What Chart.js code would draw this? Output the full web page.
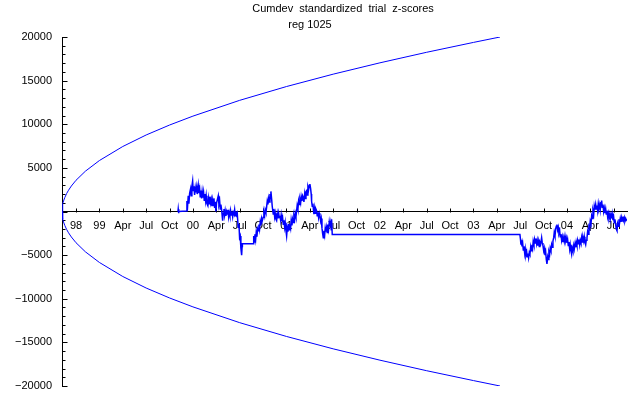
<!DOCTYPE html>
<html>
<head>
<meta charset="utf-8">
<script src="https://cdn.jsdelivr.net/npm/chart.js@4.4.1/dist/chart.umd.min.js"></script>
<style>
  html, body { margin: 0; padding: 0; background: #fff; }
</style>
</head>
<body>
<canvas id="myChart" width="640" height="395"></canvas>
<script>
var titleLine1 = "Cumdev  standardized  trial  z-scores";
var titleLine2 = "reg 1025";

// x axis: decimal years, quarterly ticks
var xMin = 1998.6;
var xMax = 2004.642;
var tickYears = [1998.75, 1999, 1999.25, 1999.5, 1999.75, 2000, 2000.25, 2000.5, 2000.75,
  2001, 2001.25, 2001.5, 2001.75, 2002, 2002.25, 2002.5, 2002.75, 2003, 2003.25, 2003.5,
  2003.75, 2004, 2004.25, 2004.5];
var tickLabels = ["98", "99", "Apr", "Jul", "Oct", "00", "Apr", "Jul", "Oct",
  "01", "Apr", "Jul", "Oct", "02", "Apr", "Jul", "Oct", "03", "Apr", "Jul",
  "Oct", "04", "Apr", "Jul"];

// envelope
var envYears = [1998.600, 1998.605, 1998.610, 1998.620, 1998.630, 1998.650, 1998.670, 1998.700,
  1998.750, 1998.850, 1999.000, 1999.250, 1999.500, 1999.750, 2000.000, 2000.500, 2001.000,
  2001.500, 2002.000, 2002.500, 2003.000, 2003.284];
var envUpper = [0, 650, 920, 1310, 1600, 2070, 2440, 2920, 3580, 4620, 5840, 7450, 8770, 9910,
  10930, 12740, 14320, 15740, 17040, 18250, 19380, 20000];
var envLower = [0, -650, -920, -1310, -1600, -2070, -2440, -2920, -3580, -4620, -5840, -7450, -8770, -9910,
  -10930, -12740, -14320, -15740, -17040, -18250, -19380, -20000];

// cumdev, first run (late 1999 - mid 2001)
var run1Years = [
  1999.840, 1999.843, 1999.846, 1999.850, 1999.933, 1999.936, 1999.940, 1999.950, 1999.957, 1999.965,
  1999.975, 1999.982, 1999.989, 1999.997, 2000.003, 2000.011, 2000.018, 2000.025, 2000.032, 2000.040,
  2000.046, 2000.057, 2000.064, 2000.072, 2000.078, 2000.086, 2000.093, 2000.099, 2000.107, 2000.114,
  2000.121, 2000.128, 2000.136, 2000.142, 2000.150, 2000.160, 2000.168, 2000.174, 2000.182, 2000.189,
  2000.196, 2000.203, 2000.211, 2000.217, 2000.225, 2000.232, 2000.238, 2000.246, 2000.253, 2000.260,
  2000.271, 2000.278, 2000.286, 2000.292, 2000.299, 2000.307, 2000.318, 2000.324, 2000.332, 2000.339,
  2000.345, 2000.353, 2000.360, 2000.367, 2000.374, 2000.382, 2000.388, 2000.396, 2000.403, 2000.410,
  2000.417, 2000.425, 2000.431, 2000.439, 2000.446, 2000.452, 2000.460, 2000.467, 2000.474, 2000.484,
  2000.492, 2000.499, 2000.506, 2000.513, 2000.521, 2000.526, 2000.529, 2000.645, 2000.650, 2000.656,
  2000.663, 2000.671, 2000.677, 2000.684, 2000.692, 2000.698, 2000.706, 2000.713, 2000.720, 2000.727,
  2000.735, 2000.741, 2000.752, 2000.759, 2000.767, 2000.773, 2000.781, 2000.788, 2000.795, 2000.802,
  2000.810, 2000.816, 2000.824, 2000.831, 2000.834, 2000.842, 2000.848, 2000.859, 2000.866, 2000.874,
  2000.880, 2000.888, 2000.895, 2000.902, 2000.909, 2000.917, 2000.923, 2000.930, 2000.938, 2000.944,
  2000.952, 2000.959, 2000.966, 2000.973, 2000.981, 2000.987, 2000.995, 2001.002, 2001.009, 2001.016,
  2001.024, 2001.030, 2001.037, 2001.045, 2001.051, 2001.059, 2001.066, 2001.073, 2001.080, 2001.088,
  2001.094, 2001.102, 2001.109, 2001.115, 2001.123, 2001.130, 2001.137, 2001.144, 2001.152, 2001.158,
  2001.166, 2001.173, 2001.180, 2001.187, 2001.195, 2001.201, 2001.209, 2001.216, 2001.222, 2001.230,
  2001.237, 2001.244, 2001.251, 2001.259, 2001.265, 2001.269, 2001.276, 2001.283, 2001.291, 2001.294,
  2001.302, 2001.308, 2001.315, 2001.323, 2001.329, 2001.337, 2001.344, 2001.351, 2001.358, 2001.366,
  2001.372, 2001.380, 2001.387, 2001.394, 2001.401, 2001.409, 2001.415, 2001.422, 2001.430, 2001.436,
  2001.444, 2001.451, 2001.458, 2001.465, 2001.473, 2001.479, 2001.483, 2001.490
];
var run1Values = [
  0, 300, -200, 0, 50, 1200, 100, 1800, 900, 2100,
  2600, 1800, 2900, 3500, 2400, 2900, 1900, 2700, 2200, 2800,
  2000, 3000, 2100, 2600, 1700, 2400, 1500, 2300, 1600, 2200,
  1300, 2000, 1200, 1800, 900, 650, 1500, 900, 1700, 1000,
  1400, 600, 1300, 700, 1500, 400, 1100, 0, 1000, 1300,
  1800, 800, 1200, 300, 800, 200, -1050, -200, 300, -400,
  100, -500, 0, -300, 200, -600, -100, -500, 100, -400,
  0, -600, -100, -300, 200, -500, 0, -400, -200, -1800,
  -1400, -3000, -2800, -4200, -5000, -4000, -3700, -3700, -2800, -3500,
  -2600, -3200, -2400, -2900, -2000, -2200, -1500, -2000, -1200, -1600,
  -800, -1100, -650, -100, -500, 200, -100, 500, 1200, 800,
  1500, 1100, 2000, 1500, 2300, 1400, 600, -300, 300, -600,
  -200, -900, -1050, -300, -800, -200, -700, -500, -1000, -400,
  -1100, -700, -1450, -1000, -1800, -1300, -2200, -2800, -1900, -2300,
  -1400, -2100, -1450, -1900, -1000, -1600, -900, -1250, -500, -900,
  -200, -600, 100, 700, 300, 1200, 800, 1400, 1000, 1700,
  1200, 1800, 1600, 1100, 2000, 1500, 2300, 2400, 1900, 2800,
  2500, 3000, 3150, 2600, 2000, 1200, 600, 900, 0, -300,
  400, -200, 300, 100, -500, -100, -700, -200, -500, -1100,
  -800, -1900, -2500, -3000, -2200, -2700, -1900, -2300, -1800, -2400,
  -1500, -2000, -1200, -1700, -1250, -2100, -900, -2650
];

// cumdev, second run (mid 2003 - mid 2004)
var run2Years = [
  2003.497, 2003.503, 2003.508, 2003.513, 2003.519, 2003.526, 2003.533, 2003.540, 2003.548, 2003.554,
  2003.561, 2003.569, 2003.575, 2003.583, 2003.590, 2003.597, 2003.604, 2003.612, 2003.618, 2003.626,
  2003.633, 2003.639, 2003.647, 2003.654, 2003.661, 2003.668, 2003.676, 2003.682, 2003.690, 2003.697,
  2003.704, 2003.711, 2003.719, 2003.729, 2003.736, 2003.743, 2003.751, 2003.757, 2003.765, 2003.772,
  2003.779, 2003.786, 2003.794, 2003.800, 2003.807, 2003.815, 2003.821, 2003.829, 2003.836, 2003.843,
  2003.850, 2003.858, 2003.864, 2003.872, 2003.879, 2003.886, 2003.893, 2003.900, 2003.907, 2003.914,
  2003.922, 2003.928, 2003.936, 2003.943, 2003.950, 2003.957, 2003.965, 2003.971, 2003.979, 2003.986,
  2003.992, 2004.000, 2004.007, 2004.014, 2004.021, 2004.029, 2004.035, 2004.043, 2004.050, 2004.057,
  2004.064, 2004.072, 2004.078, 2004.086, 2004.093, 2004.099, 2004.107, 2004.114, 2004.121, 2004.128,
  2004.136, 2004.142, 2004.150, 2004.157, 2004.164, 2004.171, 2004.179, 2004.185, 2004.192, 2004.200,
  2004.206, 2004.214, 2004.221, 2004.228, 2004.235, 2004.243, 2004.249, 2004.257, 2004.264, 2004.271,
  2004.278, 2004.286, 2004.292, 2004.299, 2004.307, 2004.313, 2004.321, 2004.328, 2004.335, 2004.342,
  2004.350, 2004.356, 2004.364, 2004.371, 2004.377, 2004.385, 2004.392, 2004.399, 2004.406, 2004.414,
  2004.420, 2004.428, 2004.435, 2004.442, 2004.449, 2004.457, 2004.463, 2004.471, 2004.478, 2004.484,
  2004.492, 2004.499, 2004.506, 2004.513, 2004.521, 2004.527, 2004.535, 2004.542, 2004.549, 2004.556,
  2004.563, 2004.570, 2004.577, 2004.585, 2004.591, 2004.599, 2004.606, 2004.613, 2004.620, 2004.628,
  2004.634, 2004.642
];
var run2Values = [
  -2650, -3200, -3800, -3300, -4000, -3600, -4400, -4000, -4800, -4300,
  -5000, -4600, -5200, -4800, -5300, -4700, -4900, -4100, -4500, -3800,
  -4200, -3400, -3800, -3200, -3600, -3100, -3700, -3300, -3900, -3400,
  -4000, -3500, -3700, -3000, -3600, -3900, -4500, -4200, -5000, -4600,
  -5500, -6000, -5200, -5500, -4600, -4900, -4200, -4500, -3800, -4100,
  -3400, -3000, -2400, -2800, -2000, -1700, -1500, -2100, -1800, -2500,
  -2200, -2900, -2600, -3300, -2900, -3500, -3000, -3400, -2800, -3300,
  -3000, -3600, -3200, -3900, -3500, -4300, -3800, -4500, -4900, -4200,
  -4500, -3900, -4300, -3700, -4100, -3500, -3900, -3300, -3700, -3200,
  -3800, -3300, -3600, -3000, -3500, -3000, -3400, -2900, -3500, -3800,
  -3300, -3000, -2300, -2600, -1700, -1900, -1100, -1400, -500, -800,
  100, -300, 600, 200, 800, 300, 700, 100, 900, 400,
  800, 200, 1000, 1250, 500, 800, 0, 400, -200, 300,
  -300, 100, -600, -200, -700, -300, -900, -400, -800, -300,
  -1000, -600, -1300, -900, -1500, -2000, -2200, -1400, -1700, -900,
  -1300, -800, -1200, -700, -1100, -600, -1000, -700, -1100, -800,
  -1000, -900
];

function toPoints(xs, ys) {
  var pts = [];
  for (var i = 0; i < xs.length; i++) pts.push({ x: xs[i], y: ys[i] });
  return pts;
}

var cumdevPts = toPoints(run1Years, run1Values).concat(toPoints(run2Years, run2Values));

Chart.defaults.font.family = "'Liberation Sans', Arial, sans-serif";
Chart.defaults.font.size = 11;
Chart.defaults.color = "#000";

// title lines
var titlePlugin = {
  id: "titleText",
  afterDraw: function (chart) {
    var ctx = chart.ctx;
    ctx.save();
    ctx.fillStyle = "#000";
    ctx.font = "11px 'Liberation Sans', Arial, sans-serif";
    ctx.textAlign = "center";
    ctx.textBaseline = "alphabetic";
    ctx.fillText(titleLine1, 343, 12);
    ctx.fillText(titleLine2, 310, 28);
    ctx.restore();
  }
};

// tick marks pointing into the plot (y major/minor, x upward)
var tickPlugin = {
  id: "axisTicks",
  beforeDatasetsDraw: function (chart) {
    var ctx = chart.ctx;
    var xs = chart.scales.x;
    var ys = chart.scales.y;
    var axisX = Math.round(ys.right) + 0.5;
    var axisY = Math.round(ys.getPixelForValue(0)) + 0.5;
    ctx.save();
    ctx.strokeStyle = "#000";
    ctx.lineWidth = 1;
    ctx.beginPath();
    for (var v = ys.min; v <= ys.max; v += 1000) {
      var py = Math.round(ys.getPixelForValue(v)) + 0.5;
      var len = v % 5000 === 0 ? 5 : 3;
      ctx.moveTo(axisX, py);
      ctx.lineTo(axisX + len, py);
    }
    for (var i = 0; i < tickYears.length; i++) {
      var px = Math.round(xs.getPixelForValue(tickYears[i])) + 0.5;
      ctx.moveTo(px, axisY);
      ctx.lineTo(px, axisY - 4);
    }
    ctx.stroke();
    ctx.restore();
  }
};

var myChart = new Chart(document.getElementById("myChart").getContext("2d"), {
  type: "line",
  data: {
    datasets: [
      {
        label: "upper",
        data: toPoints(envYears, envUpper),
        borderColor: "#0000ff",
        borderWidth: 1,
        pointRadius: 0,
        tension: 0,
        fill: false
      },
      {
        label: "lower",
        data: toPoints(envYears, envLower),
        borderColor: "#0000ff",
        borderWidth: 1,
        pointRadius: 0,
        tension: 0,
        fill: false
      },
      {
        label: "cumdev",
        data: cumdevPts,
        borderColor: "#0000ff",
        borderWidth: 1.5,
        pointRadius: 0,
        tension: 0,
        fill: false
      }
    ]
  },
  options: {
    responsive: false,
    animation: false,
    devicePixelRatio: 1,
    layout: { padding: { top: 37, right: 13, bottom: 9, left: 0 } },
    plugins: {
      legend: { display: false },
      tooltip: { enabled: false },
      title: { display: false }
    },
    scales: {
      x: {
        type: "linear",
        min: xMin,
        max: xMax,
        position: { y: 0 },
        afterFit: function (scale) { scale.height = 0; },
        afterBuildTicks: function (axis) {
          axis.ticks = tickYears.map(function (v) { return { value: v }; });
        },
        ticks: {
          autoSkip: false,
          maxRotation: 0,
          padding: 8,
          color: "#000",
          callback: function (value, index) { return tickLabels[index]; }
        },
        grid: { drawOnChartArea: false, drawTicks: false },
        border: { color: "#000", width: 1 }
      },
      y: {
        min: -20000,
        max: 20000,
        afterFit: function (scale) {
          scale.width = 62;
          scale.paddingTop = 0;
          scale.paddingBottom = 0;
        },
        ticks: {
          stepSize: 5000,
          padding: 10,
          color: "#000",
          callback: function (value) {
            if (value === 0) return "";
            return value < 0 ? "\u2212" + Math.abs(value) : String(value);
          }
        },
        grid: { drawOnChartArea: false, drawTicks: false },
        border: { color: "#000", width: 1 }
      }
    }
  },
  plugins: [tickPlugin, titlePlugin]
});
</script>
</body>
</html>
